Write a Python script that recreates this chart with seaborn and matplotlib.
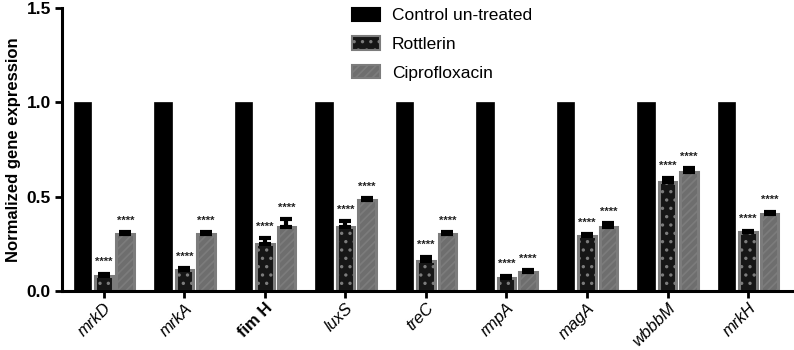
import seaborn as sns
import matplotlib.pyplot as plt
import pandas as pd
from matplotlib.patches import Patch

genes = ['mrkD', 'mrkA', 'fim H', 'luxS', 'treC', 'rmpA', 'magA', 'wbbbM', 'mrkH']
control = [1.0, 1.0, 1.0, 1.0, 1.0, 1.0, 1.0, 1.0, 1.0]
rottlerin = [0.08, 0.11, 0.25, 0.34, 0.16, 0.07, 0.29, 0.58, 0.31]
rott_err = [0.01, 0.01, 0.03, 0.03, 0.02, 0.01, 0.01, 0.02, 0.01]
cipro = [0.30, 0.30, 0.34, 0.48, 0.30, 0.10, 0.34, 0.63, 0.41]
cipro_err = [0.01, 0.01, 0.04, 0.01, 0.01, 0.01, 0.02, 0.02, 0.01]
groups = ['Control un-treated', 'Rottlerin', 'Ciprofloxacin']

df = pd.DataFrame({
    'gene': genes * 3,
    'value': control + rottlerin + cipro,
    'group': [groups[0]] * 9 + [groups[1]] * 9 + [groups[2]] * 9,
})
errs = {groups[0]: [0] * 9, groups[1]: rott_err, groups[2]: cipro_err}

sns.set_style('ticks')
plt.rcParams['font.family'] = ['Liberation Sans', 'DejaVu Sans']
plt.rcParams['hatch.linewidth'] = 1.2
plt.rcParams['text.color'] = 'black'
plt.rcParams['xtick.color'] = 'black'
plt.rcParams['ytick.color'] = 'black'
plt.rcParams['axes.edgecolor'] = 'black'
plt.rcParams['axes.labelcolor'] = 'black'

styles = {
    groups[0]: dict(facecolor='black', edgecolor='black', hatch=None, hc='black'),
    groups[1]: dict(facecolor='#161616', edgecolor='#7c7c7c', hatch='..', hc='#8a8a8a'),
    groups[2]: dict(facecolor='#6e6e6e', edgecolor='#7c7c7c', hatch='////', hc='#4a4a4a'),
}

fig = plt.figure(figsize=(7.94, 3.5), dpi=100)
ax = fig.add_axes([0.078, 0.169, 0.922, 0.808])
sns.barplot(data=df, x='gene', y='value', hue='group', hue_order=groups,
            order=genes, width=0.8, gap=0.18, errorbar=None, ax=ax, legend=False)

for cont, g in zip(ax.containers, groups):
    st = styles[g]
    for bar, err in zip(cont, errs[g]):
        bar.set_facecolor(st['facecolor'])
        bar.set_edgecolor(st['edgecolor'])
        bar.set_linewidth(2.2 if g != groups[0] else 0.5)
        if st['hatch']:
            bar.set_hatch(st['hatch'])
            if hasattr(bar, 'set_hatchcolor'):
                bar.set_hatchcolor(st['hc'])
        if g == groups[0]:
            continue
        xc = bar.get_x() + bar.get_width() / 2
        h = bar.get_height()
        ax.errorbar(xc, h, yerr=[[0], [err]], fmt='none', ecolor='black',
                    elinewidth=3, capsize=4, capthick=3, zorder=5)
        ax.text(xc, h + err + 0.035, '****', ha='center', va='bottom',
                fontsize=8, fontweight='bold', color='#222222')

handles = []
for g in groups:
    st = styles[g]
    p = Patch(facecolor=st['facecolor'], edgecolor=st['edgecolor'],
              hatch=st['hatch'], linewidth=1.5, label=g)
    handles.append(p)
leg = ax.legend(handles=handles, loc='upper left', bbox_to_anchor=(0.375, 1.057),
                frameon=False, fontsize=12.5, handlelength=1.6, handleheight=0.8,
                labelspacing=0.75, handletextpad=0.7)

ax.set_ylim(0, 1.5)
ax.set_xlim(-0.52, 8.57)
ax.set_yticks([0.0, 0.5, 1.0, 1.5])
ax.set_yticklabels(['0.0', '0.5', '1.0', '1.5'], fontsize=12.5, fontweight='bold')
ax.set_xlabel('')
ax.set_ylabel('Normalized gene expression', fontsize=12, fontweight='bold', labelpad=4)
ax.set_xticks(range(len(genes)))
ax.set_xticklabels(genes, rotation=45, ha='right', rotation_mode='anchor', fontsize=12)
for lbl in ax.get_xticklabels():
    if lbl.get_text() == 'fim H':
        lbl.set_fontweight('bold')
    else:
        lbl.set_fontstyle('italic')

sns.despine(ax=ax)
for s in ['left', 'bottom']:
    ax.spines[s].set_linewidth(2.2)
ax.tick_params(axis='y', width=2, length=5, pad=3)
ax.tick_params(axis='x', width=2, length=5, pad=2)

fig.savefig('out.png', dpi=100)
